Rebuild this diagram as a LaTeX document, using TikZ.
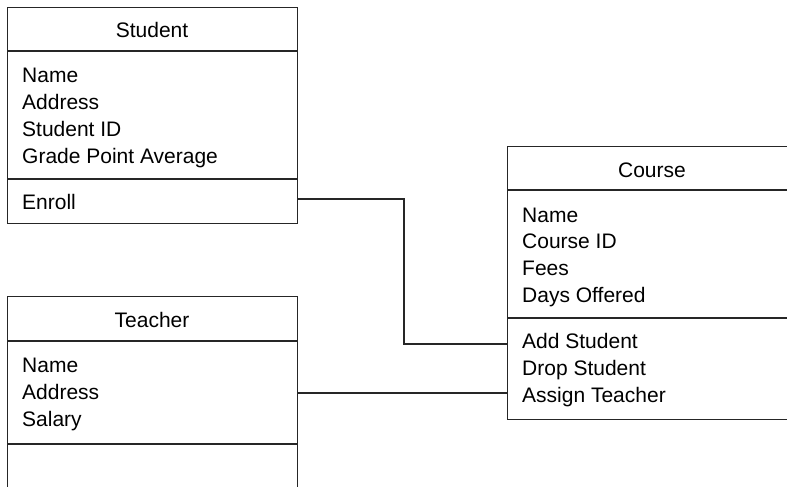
\documentclass[tikz,border=0pt]{standalone}
\usepackage{fontspec}
\setmainfont{Liberation Sans}
\begin{document}
\begin{tikzpicture}[x=1pt,y=-1pt,
  box/.style={draw=black!85,line width=1.1pt,rectangle,anchor=north west,inner sep=0pt},
  sep/.style={draw=black!85,line width=1.1pt},
  conn/.style={draw=black!85,line width=1.1pt},
  ttl/.style={anchor=base,inner sep=0pt,font=\fontsize{21}{27}\selectfont},
  txt/.style={anchor=base west,inner sep=0pt,font=\fontsize{21}{27}\selectfont}]
\useasboundingbox (0,0) rectangle (787,487);
\clip (0,0) rectangle (787,487);
% Student
\node[box,minimum width=290pt,minimum height=216pt] (stu) at (7,7) {};
\draw[sep] (7,51) -- (297,51);
\draw[sep] (7,179) -- (297,179);
\node[ttl] (stut) at (152,38) {Student};
\node[txt] (stu1) at (22,82) {Name};
\node[txt] (stu2) at (22,109) {Address};
\node[txt] (stu3) at (22,136) {Student ID};
\node[txt] (stu4) at (22,163) {Grade Point Average};
\node[txt] (stu5) at (22,209) {Enroll};
% Teacher
\node[box,minimum width=290pt,minimum height=220pt] (tea) at (7,296) {};
\draw[sep] (7,341) -- (297,341);
\draw[sep] (7,444) -- (297,444);
\node[ttl] (teat) at (152,327) {Teacher};
\node[txt] (tea1) at (22,372) {Name};
\node[txt] (tea2) at (22,399) {Address};
\node[txt] (tea3) at (22,426) {Salary};
% Course
\node[box,minimum width=300pt,minimum height=273pt] (crs) at (507,146) {};
\draw[sep] (507,190) -- (807,190);
\draw[sep] (507,318) -- (807,318);
\node[ttl] (crst) at (652,177) {Course};
\node[txt] (crs1) at (522,222) {Name};
\node[txt] (crs2) at (522,248) {Course ID};
\node[txt] (crs3) at (522,275) {Fees};
\node[txt] (crs4) at (522,302) {Days Offered};
\node[txt] (crs5) at (522,348) {Add Student};
\node[txt] (crs6) at (522,375) {Drop Student};
\node[txt] (crs7) at (522,402) {Assign Teacher};
% connectors
\coordinate (bend) at (404,344);
\draw[conn] (stu.east |- 0,199) -| (bend) -- (crs.west |- bend);
\draw[conn] (tea.east |- 0,393) -- (crs.west |- 0,393);
\end{tikzpicture}
\end{document}
